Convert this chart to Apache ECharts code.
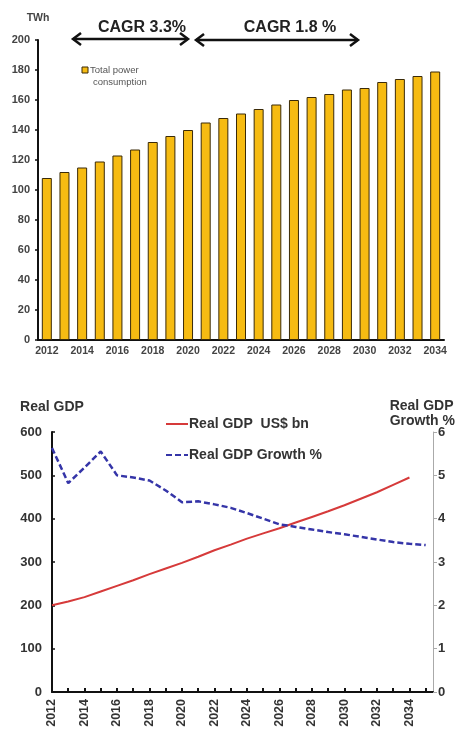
<!DOCTYPE html>
<html>
<head>
<meta charset="utf-8">
<script src="https://cdn.jsdelivr.net/npm/echarts@6/dist/echarts.min.js"></script>
<style>
html,body{margin:0;padding:0;background:#fff;}
#chart{width:460px;height:731px;}
</style>
</head>
<body>
<div id="chart"></div>
<script>
// ---- Data ----
var powerYears = ['2012','2013','2014','2015','2016','2017','2018','2019','2020','2021','2022','2023','2024','2025','2026','2027','2028','2029','2030','2031','2032','2033','2034'];
var powerTWh = [108, 112, 115, 119, 123, 127, 132, 136, 140, 145, 148, 151, 154, 157, 160, 162, 164, 167, 168, 172, 174, 176, 179];

var gdpYears = [2012,2013,2014,2015,2016,2017,2018,2019,2020,2021,2022,2023,2024,2025,2026,2027,2028,2029,2030,2031,2032,2033,2034];
var gdpUSDbn = [200, 209, 219, 232, 245, 258, 272, 285, 298, 312, 327, 340, 354, 366, 378, 391, 404, 417, 431, 446, 461, 478, 495];

var growthYears = [2012,2013,2014,2015,2016,2017,2018,2019,2020,2021,2022,2023,2024,2025,2026,2027,2028,2029,2030,2031,2032,2033,2034,2035];
var growthPct = [5.63, 4.82, 5.18, 5.55, 5.0, 4.95, 4.88, 4.65, 4.38, 4.40, 4.33, 4.25, 4.13, 4.0, 3.87, 3.81, 3.75, 3.69, 3.64, 3.58, 3.52, 3.46, 3.42, 3.39];

var topYTicks = [0, 200, 20];
var gdpYTicks = [0, 600, 100];
var growthYTicks = [0, 6, 1];

var cagrLabels = ['CAGR 3.3%', 'CAGR 1.8 %'];
// -------------

var FONT = 'Liberation Sans, Arial, sans-serif';
var chart = echarts.init(document.getElementById('chart'));

function pairs(xs, ys){ return xs.map(function(x,i){ return [x, ys[i]]; }); }

function arrow(x1, x2, y){
  var h = 6, w = 8;
  return {
    type: 'group',
    children: [
      {type:'line', shape:{x1:x1, y1:y, x2:x2, y2:y}, style:{stroke:'#111', lineWidth:2.5}},
      {type:'polyline', shape:{points:[[x1+w,y-h],[x1,y],[x1+w,y+h]]}, style:{stroke:'#111', lineWidth:2.5, fill:null}},
      {type:'polyline', shape:{points:[[x2-w,y-h],[x2,y],[x2-w,y+h]]}, style:{stroke:'#111', lineWidth:2.5, fill:null}}
    ]
  };
}

var option = {
  backgroundColor: '#fff',
  animation: false,
  textStyle: {fontFamily: FONT},
  title: [{
    text: 'Real GDP\nGrowth %',
    right: 0, top: 394,
    textStyle: {fontFamily: FONT, fontSize: 14, fontWeight: 'bold', color: '#333', lineHeight: 15, align: 'right'}
  }],
  legend: [{
    data: ['Real GDP  US$ bn', 'Real GDP Growth %'],
    orient: 'vertical',
    left: 160, top: 412,
    itemWidth: 22, itemHeight: 14, itemGap: 17,
    itemStyle: {opacity: 0},
    textStyle: {fontFamily: FONT, fontSize: 14, fontWeight: 'bold', color: '#333', padding: [0,0,0,-4]}
  }],
  grid: [
    {left: 38, right: 16, top: 40, height: 300, containLabel: false},
    {left: 52, right: 27, top: 432, height: 260, containLabel: false}
  ],
  xAxis: [{
    type: 'category', gridIndex: 0, data: powerYears,
    axisLine: {lineStyle: {color: '#111', width: 2}},
    axisTick: {show: false},
    axisLabel: {interval: 1, fontFamily: FONT, fontSize: 10.5, fontWeight: 'bold', color: '#444', margin: 6}
  }, {
    type: 'value', gridIndex: 1, min: 2012, max: 2035.45, interval: 1,
    axisLine: {lineStyle: {color: '#111', width: 2}},
    axisTick: {show: true, inside: true, length: 4, lineStyle: {color: '#111', width: 2}},
    splitLine: {show: false},
    axisLabel: {
      rotate: 90, fontFamily: FONT, fontSize: 12.5, fontWeight: 'bold', color: '#333', margin: 7,
      showMaxLabel: false,
      formatter: function(v){ return (v % 2 === 0 && v <= 2034) ? String(v) : ''; }
    }
  }],
  yAxis: [{
    type: 'value', gridIndex: 0, min: topYTicks[0], max: topYTicks[1], interval: topYTicks[2],
    name: 'TWh', nameLocation: 'end', nameGap: 16,
    nameTextStyle: {fontFamily: FONT, fontSize: 10.5, fontWeight: 'bold', color: '#444', align: 'center'},
    axisLine: {show: true, lineStyle: {color: '#111', width: 2}},
    axisTick: {show: true, inside: false, length: 3, lineStyle: {color: '#111', width: 1.5}},
    splitLine: {show: false},
    axisLabel: {fontFamily: FONT, fontSize: 11, fontWeight: 'bold', color: '#444', margin: 8}
  }, {
    type: 'value', gridIndex: 1, min: gdpYTicks[0], max: gdpYTicks[1], interval: gdpYTicks[2],
    name: 'Real GDP', nameLocation: 'end', nameGap: 18,
    nameTextStyle: {fontFamily: FONT, fontSize: 14, fontWeight: 'bold', color: '#333', align: 'center'},
    axisLine: {show: true, lineStyle: {color: '#111', width: 2}},
    axisTick: {show: true, inside: true, length: 3, lineStyle: {color: '#111', width: 1.5}},
    splitLine: {show: false},
    axisLabel: {fontFamily: FONT, fontSize: 13, fontWeight: 'bold', color: '#333', margin: 10}
  }, {
    type: 'value', gridIndex: 1, position: 'right', min: growthYTicks[0], max: growthYTicks[1], interval: growthYTicks[2],
    axisLine: {show: true, lineStyle: {color: '#aaa', width: 1}},
    axisTick: {show: true, inside: false, length: 4, lineStyle: {color: '#aaa', width: 1}},
    splitLine: {show: false},
    axisLabel: {fontFamily: FONT, fontSize: 13, fontWeight: 'bold', color: '#333', margin: 5}
  }],
  series: [{
    name: 'Total power consumption',
    type: 'bar', xAxisIndex: 0, yAxisIndex: 0,
    data: powerTWh, barWidth: 10,
    itemStyle: {color: '#F6BB12', borderColor: '#3a2a08', borderWidth: 1}
  }, {
    name: 'Real GDP  US$ bn',
    type: 'line', xAxisIndex: 1, yAxisIndex: 1,
    data: pairs(gdpYears, gdpUSDbn),
    symbol: 'none',
    lineStyle: {color: '#D63A3A', width: 2},
    itemStyle: {color: '#D63A3A'}
  }, {
    name: 'Real GDP Growth %',
    type: 'line', xAxisIndex: 1, yAxisIndex: 2,
    data: pairs(growthYears, growthPct),
    symbol: 'none',
    lineStyle: {color: '#3535A8', width: 2.5, type: [6, 3]},
    itemStyle: {color: '#3535A8'}
  }],
  graphic: [
    arrow(73, 188, 39),
    arrow(196, 358, 40),
    {type:'text', x:142, y:28, style:{text:cagrLabels[0], font:'bold 16px ' + FONT, fill:'#222', textAlign:'center', textVerticalAlign:'middle'}},
    {type:'text', x:290, y:28, style:{text:cagrLabels[1], font:'bold 16px ' + FONT, fill:'#222', textAlign:'center', textVerticalAlign:'middle'}},
    {type:'rect', shape:{x:82, y:67, width:6, height:6}, style:{fill:'#F6BB12', stroke:'#3a2a08', lineWidth:1}},
    {type:'text', x:90, y:70, style:{text:'Total power', font:'9.5px ' + FONT, fill:'#555', textVerticalAlign:'middle'}},
    {type:'text', x:93, y:82, style:{text:'consumption', font:'9.5px ' + FONT, fill:'#555', textVerticalAlign:'middle'}}
  ]
};
chart.setOption(option);
</script>
</body>
</html>
